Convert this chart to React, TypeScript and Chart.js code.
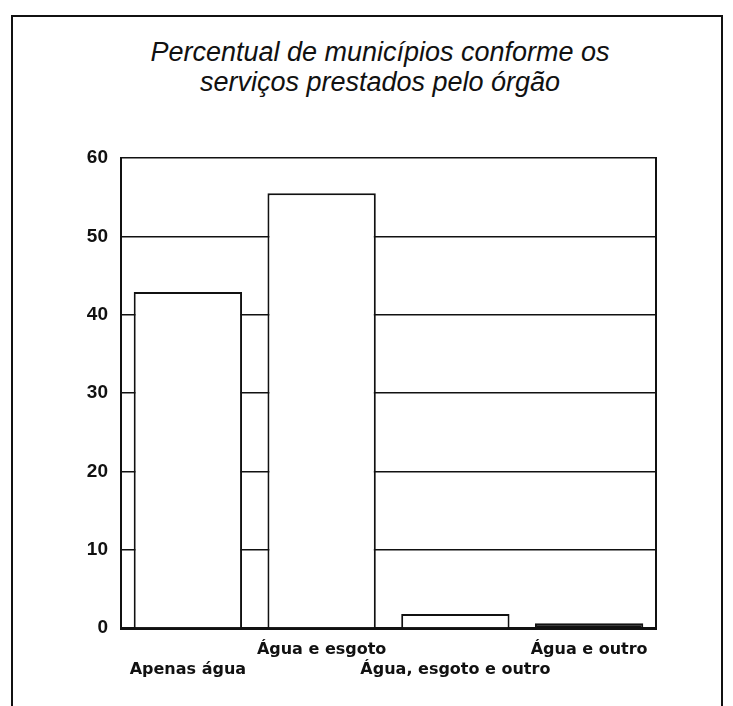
import React, { useEffect, useRef } from "react";
import { Chart, registerables } from "chart.js";

Chart.register(...registerables);

const categories: string[][] = [
  ["", "Apenas água"],
  ["Água e esgoto", ""],
  ["", "Água, esgoto e outro"],
  ["Água e outro", ""],
];
const values: number[] = [42.9, 55.5, 1.8, 0.6];
const barFills: string[] = ["#ffffff", "#ffffff", "#ffffff", "#111111"];
const titleLines: string[] = [
  "Percentual de municípios conforme os",
  "serviços prestados pelo órgão",
];
const yMin = 0;
const yMax = 60;
const yStep = 10;

export default function App() {
  const canvasRef = useRef<HTMLCanvasElement | null>(null);

  useEffect(() => {
    const ctx = canvasRef.current;
    if (!ctx) return;
    const chart = new Chart(ctx, {
      type: "bar",
      data: {
        labels: categories,
        datasets: [
          {
            data: values,
            backgroundColor: barFills,
            borderColor: "#111111",
            borderWidth: 2,
            barPercentage: 0.81,
            categoryPercentage: 1,
          },
        ],
      },
      options: {
        animation: false,
        responsive: false,
        maintainAspectRatio: false,
        layout: { padding: { left: 71, right: 77, top: 158, bottom: 28 } },
        plugins: {
          legend: { display: false },
          title: { display: false },
          tooltip: { enabled: false },
        },
        scales: {
          x: {
            grid: { display: false, drawTicks: false },
            border: { display: true, color: "#111111", width: 3 },
            ticks: {
              autoSkip: false,
              maxRotation: 0,
              minRotation: 0,
              padding: 11,
              color: "#111111",
              font: { family: "'DejaVu Sans'", size: 16, weight: "bold", lineHeight: 1.3 },
            },
            afterFit: (s: any) => {
              s.height = 50;
            },
          },
          y: {
            min: yMin,
            max: yMax,
            ticks: {
              stepSize: yStep,
              padding: 13,
              color: "#111111",
              font: { family: "'Liberation Sans', Arial", size: 19, weight: "bold" },
            },
            grid: { color: "#111111", lineWidth: 1.6, drawTicks: false },
            border: { display: true, color: "#111111", width: 2 },
            afterFit: (s: any) => {
              s.width = 50;
            },
          },
          y2: {
            position: "right",
            min: yMin,
            max: yMax,
            ticks: { display: false },
            grid: { display: false, drawTicks: false },
            border: { display: true, color: "#111111", width: 2 },
            afterFit: (s: any) => {
              s.width = 0;
            },
          },
        },
      },
    });
    return () => chart.destroy();
  }, []);

  return (
    <div
      style={{
        position: "fixed",
        left: 0,
        top: 0,
        width: 733,
        height: 706,
        overflow: "hidden",
        background: "#ffffff",
      }}
    >
      <div
        style={{
          position: "absolute",
          left: 11,
          top: 15,
          width: 712,
          height: 760,
          border: "2px solid #111111",
          boxSizing: "border-box",
        }}
      />
      <div
        style={{
          position: "absolute",
          left: 0,
          top: 37,
          width: 760,
          textAlign: "center",
          fontFamily: "'Liberation Sans', Arial, sans-serif",
          fontStyle: "italic",
          fontSize: 27,
          lineHeight: "30px",
          color: "#111111",
        }}
      >
        {titleLines.map((t, i) => (
          <div key={i}>{t}</div>
        ))}
      </div>
      <canvas
        ref={canvasRef}
        width={733}
        height={706}
        style={{ position: "absolute", left: 0, top: 0, width: 733, height: 706 }}
      />
    </div>
  );
}
